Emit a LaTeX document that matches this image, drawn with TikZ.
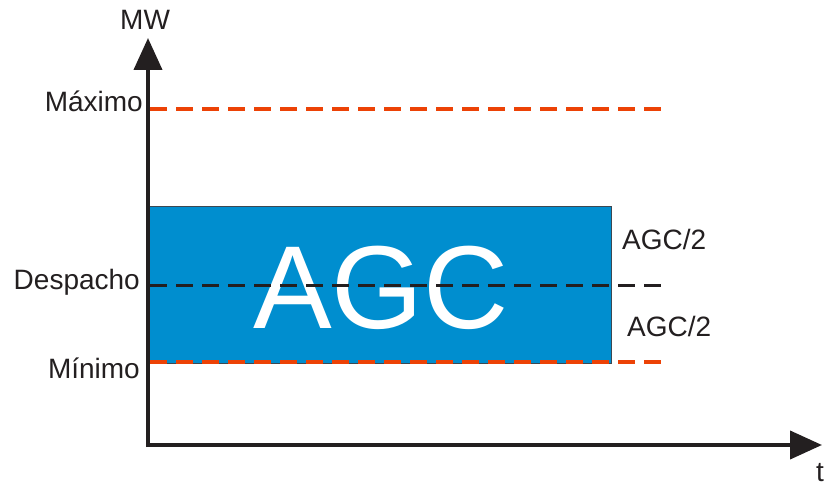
\documentclass[tikz,border=0pt]{standalone}
\usepackage{fontspec}
\setmainfont{Liberation Sans}
\usetikzlibrary{arrows.meta}
\definecolor{axisgray}{RGB}{35,31,32}
\definecolor{bandblue}{RGB}{0,142,207}
\definecolor{limitorange}{RGB}{236,66,6}
\definecolor{bandedge}{RGB}{60,72,82}
\tikzset{
  axisline/.style={draw=axisgray, line width=4pt, -{Triangle[length=32pt,width=28pt]}},
  limitline/.style={draw=limitorange, line width=4pt, dash pattern=on 17pt off 9pt},
  setpoint/.style={draw=axisgray, line width=3pt, dash pattern=on 17pt off 9pt},
  lbl/.style={inner sep=0pt, text=axisgray, font=\fontsize{28}{28}\selectfont},
  biglbl/.style={inner sep=0pt, text=white, font=\fontsize{118}{118}\selectfont},
}
\begin{document}
\begin{tikzpicture}[x=1pt,y=-1pt]
  \useasboundingbox (0,0) rectangle (830,489);

  % regulation band
  \node[draw=bandedge, line width=1pt, fill=bandblue, inner sep=0pt,
        minimum width=463pt, minimum height=157pt, anchor=north west]
        (band) at (148,206) {};
  \node[biglbl, anchor=base] (agc) at (381,328) {AGC};

  % limits and dispatch level
  \coordinate (maxL) at (150,109);  \coordinate (maxR) at (661,109);
  \coordinate (despL) at (150,285); \coordinate (despR) at (661,285);
  \coordinate (minL) at (150,362);  \coordinate (minR) at (661,362);
  \draw[limitline] (maxL) -- (maxR);
  \draw[setpoint] (despL) -- (despR);
  \draw[limitline] (minL) -- (minR);

  % axes
  \coordinate (ytip) at (148,38);
  \coordinate (xtip) at (822,445);
  \coordinate (ystart) at (148,447);
  \coordinate (xstart) at (146,445);
  \draw[axisline] (ystart) -- (ytip);
  \draw[axisline] (xstart) -- (xtip);

  % labels
  \node[lbl, anchor=base west] (mw) at (120,30) {MW};
  \node[lbl, anchor=base west] (t) at (816,481) {t};
  \node[lbl, anchor=base east] (maximo) at (143,112) {Máximo};
  \node[lbl, anchor=base east] (despacho) at (140,289) {Despacho};
  \node[lbl, anchor=base east] (minimo) at (140,378) {Mínimo};
  \node[lbl, anchor=base west] (half1) at (622,250) {AGC/2};
  \node[lbl, anchor=base west] (half2) at (627,336) {AGC/2};
\end{tikzpicture}
\end{document}
